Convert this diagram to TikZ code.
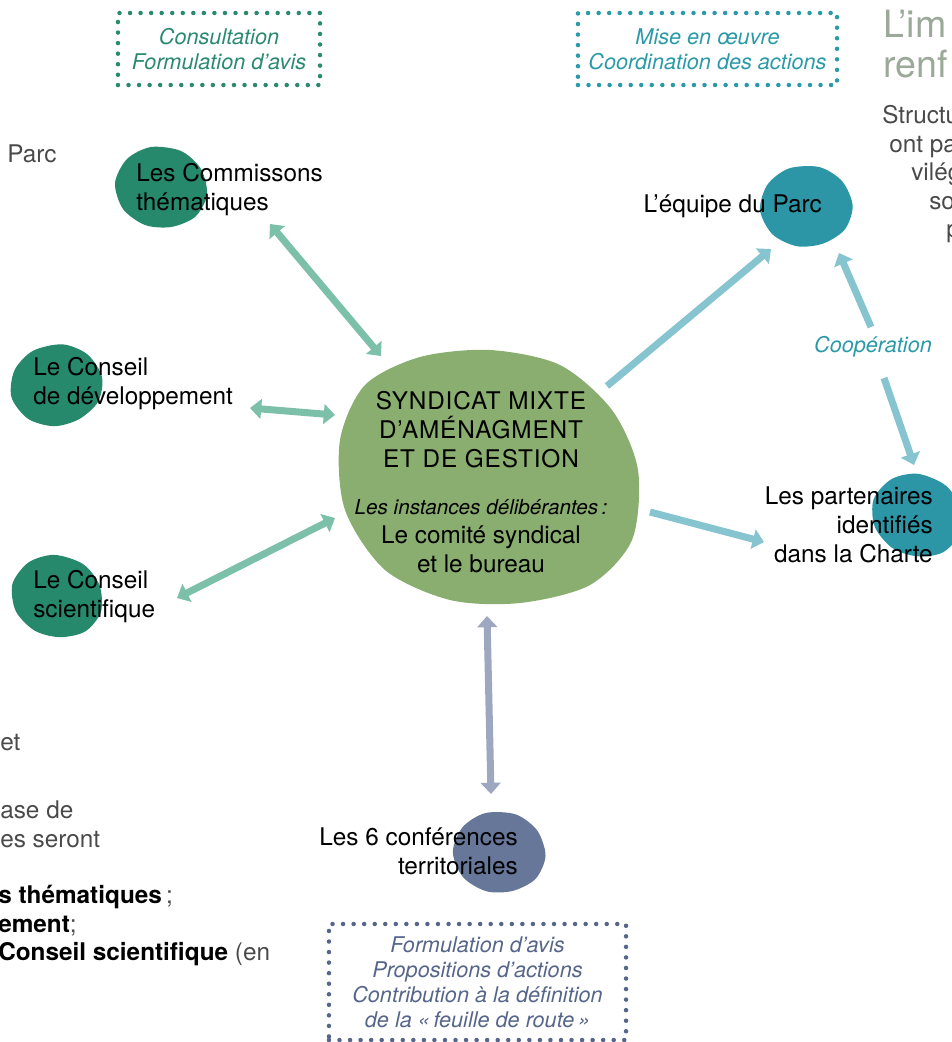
\documentclass[tikz,border=0pt]{standalone}
\usepackage{fontspec}
\setmainfont{TeX Gyre Heros}
\usetikzlibrary{arrows.meta}

\definecolor{vertfonce}{HTML}{27896C}
\definecolor{bleucanard}{HTML}{2C96A6}
\definecolor{vertolive}{HTML}{8AAE6F}
\definecolor{ardoise}{HTML}{66779A}
\definecolor{flvert}{HTML}{7DC0A9}
\definecolor{flbleu}{HTML}{86C4D0}
\definecolor{flgris}{HTML}{9DA8C0}
\definecolor{txtvert}{HTML}{2A8A6E}
\definecolor{txtbleu}{HTML}{2B9AA8}
\definecolor{txtardoise}{HTML}{56668A}
\definecolor{titre}{HTML}{9BAA98}
\definecolor{gristexte}{HTML}{4A4A4A}

\newcommand{\corps}{\fontsize{17.3}{20.6}\selectfont}
\newcommand{\petit}{\fontsize{15.4}{17.8}\selectfont\itshape}

% tache de couleur
\newcommand{\tache}[3]{%
  \fill[#1, shift={#2}, rotate=#3] plot[smooth cycle] coordinates
    {(-10,-40) (20,-36) (40,-18) (46,8) (34,30) (10,40) (-16,38) (-38,22) (-46,-4) (-34,-28)};}

\tikzset{
  texte/.style={font=\corps, inner sep=0pt, text=black},
  fragment/.style={font=\corps, inner sep=0pt, text=gristexte, anchor=base west},
  cadre/.style={draw=#1, line width=3.2pt, dash pattern=on 0pt off 7.5pt, line cap=round,
    inner sep=0pt, align=center, font=\petit},
  fleche/.style={draw=#1, line width=5pt},
}

\begin{document}
\begin{tikzpicture}[x=0.025cm, y=-0.025cm, >={Triangle[width=14pt,length=8pt]}]
\clip (0,0) rectangle (952,1042);

% Taches
\fill[vertolive] plot[smooth cycle] coordinates {(420,357) (490,350) (560,365) (612,410)
  (638,470) (632,540) (590,585) (520,603) (450,600) (385,570) (345,510) (340,440) (365,385)};
\foreach \c/\x/\y/\r in {vertfonce/161/187/0, vertfonce/56/385/20, vertfonce/57/596/-10,
    bleucanard/806/206/10, bleucanard/917/515/-15, ardoise/499/852/5} {
  \tache{\c}{(\x,\y)}{\r}
}

% Cadres
\node[cadre=txtvert, text=txtvert, minimum width=5.05cm, minimum height=1.8cm] (consult) at (219,49)
  {Consultation\\Formulation d’avis};
\node[cadre=txtbleu, text=txtbleu, minimum width=6.475cm, minimum height=1.8cm] (miseoeuvre) at (707.5,49)
  {Mise en œuvre\\Coordination des actions};
\node[cadre=txtardoise, text=txtardoise, minimum width=7.425cm, minimum height=2.9cm] (formavis) at (477.5,982)
  {Formulation d’avis\\Propositions d’actions\\Contribution à la définition\\de la «\,feuille de route\,»};

% Instances
\node[texte, anchor=west, align=left] (com) at (136,190) {Les Commissons\\thématiques};
\node[texte, anchor=west, align=left] (cdev) at (33,384) {Le Conseil\\de développement};
\node[texte, anchor=west, align=left] (csci) at (33,597) {Le Conseil\\scientifique};
\node[texte, anchor=east] (equipe) at (822,206) {L’équipe du Parc};
\node[texte, anchor=east, align=right] (part) at (933,525) {Les partenaires\\identifiés\\dans la Charte};
\node[texte, anchor=east, align=right] (conf) at (518,851) {Les 6 conférences\\territoriales};
\node[texte, align=center] (syn) at (481,482) {{\addfontfeature{LetterSpace=3.5}SYNDICAT MIXTE}\\
  {\addfontfeature{LetterSpace=3.5}D’AMÉNAGMENT}\\{\addfontfeature{LetterSpace=3.5}ET DE GESTION}\\[13pt]
  {\fontsize{14.7}{17.8}\selectfont\itshape Les instances délibérantes\,:}\\Le comité syndical\\et le bureau};
\node[font=\petit, text=txtbleu, inner sep=0pt] (coop) at (873,347) {Coopération};

% Extremites des fleches
\coordinate (comA) at (270,224);
\coordinate (synA) at (381,356);
\coordinate (cdevA) at (250,408);
\coordinate (synB) at (335,415);
\coordinate (csciA) at (177,598);
\coordinate (synC) at (335,518);
\coordinate (synD) at (607,386);
\coordinate (equA) at (771,249);
\coordinate (synE) at (650,512);
\coordinate (partA) at (764,542);
\coordinate (coopA) at (871,327);
\coordinate (equB) at (839,253);
\coordinate (coopB) at (884,378);
\coordinate (partB) at (914,465);
\coordinate (synF) at (487,616);
\coordinate (confA) at (491,794);

% Fleches
\foreach \a/\b in {comA/synA, cdevA/synB, csciA/synC}
  \draw[fleche=flvert, <->] (\a) -- (\b);
\foreach \a/\b in {synD/equA, synE/partA, coopA/equB, coopB/partB}
  \draw[fleche=flbleu, ->] (\a) -- (\b);
\draw[fleche=flgris, <->] (synF) -- (confA);

% Texte de la page autour
\node[fragment, font=\fontsize{26.7}{28.5}\selectfont, text=titre] (titreA) at (883,37) {L’im};
\node[fragment, font=\fontsize{26.7}{28.5}\selectfont, text=titre] (titreB) at (883,77) {renf};
\node[fragment] (dr1) at (882,123) {Structu};
\node[fragment] (dr2) at (889,152) {ont pa};
\node[fragment] (dr3) at (911,180) {vilég};
\node[fragment] (dr4) at (929,209) {so};
\node[fragment] (dr5) at (946,237) {p};
\node[fragment] (ga1) at (7,162) {Parc};
\node[fragment] (ga2) at (0,750) {et};
\node[fragment] (ga3) at (0,818) {ase de};
\node[fragment] (ga4) at (0,847) {es seront};
\node[fragment] (ga5) at (-2,903) {\textcolor{black}{\bfseries s thématiques}\,;};
\node[fragment] (ga6) at (-2,932) {\textcolor{black}{\bfseries ement};};
\node[fragment] (ga7) at (-2,960) {\textcolor{black}{\bfseries Conseil scientifique} (en};
\end{tikzpicture}
\end{document}
